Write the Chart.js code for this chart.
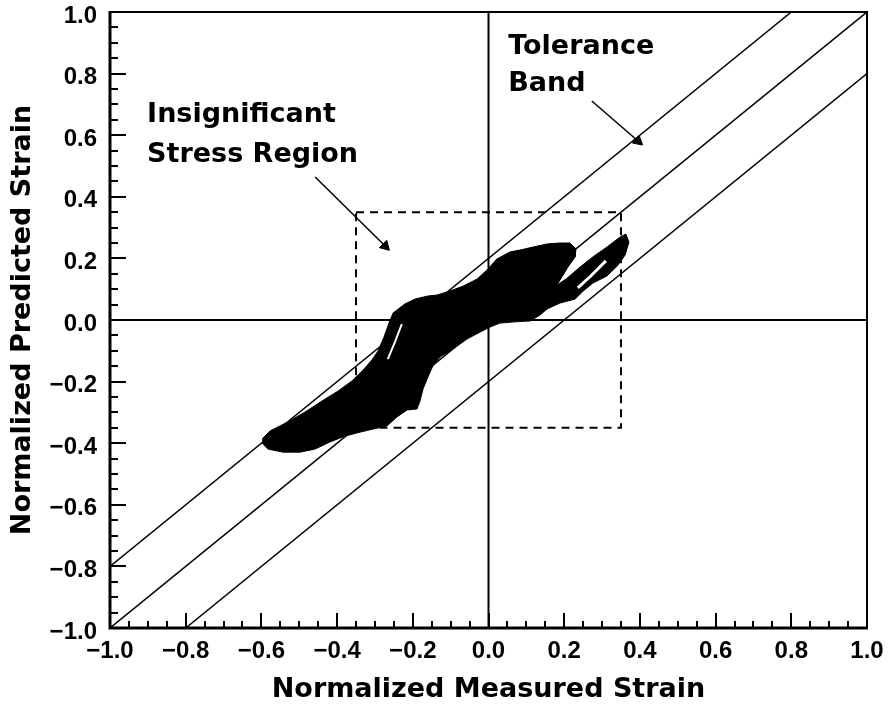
<!DOCTYPE html>
<html><head><meta charset="utf-8">
<script src="https://cdn.jsdelivr.net/npm/chart.js@4.4.1/dist/chart.umd.min.js"></script>
<style>html,body{margin:0;padding:0;background:#fff;}canvas{display:block;}</style>
</head><body>
<canvas id="c" width="889" height="715"></canvas>
<script>
// ---- data ----
const tickValues = [-1.0,-0.8,-0.6,-0.4,-0.2,0.0,0.2,0.4,0.6,0.8,1.0];
const tickLabels = ['\u22121.0','\u22120.8','\u22120.6','\u22120.4','\u22120.2','0.0','0.2','0.4','0.6','0.8','1.0'];
const xTitle = 'Normalized Measured Strain';
const yTitle = 'Normalized Predicted Strain';

// tolerance band (line endpoints)
const bandUpperX = [-1.0, 0.8],  bandUpperY = [-0.8, 1.0];
const bandCenterX = [-1.0, 1.0], bandCenterY = [-1.0, 1.0];
const bandLowerX = [-0.8, 1.0],  bandLowerY = [-1.0, 0.8];

// zero axes
const zeroHX = [-1.0, 1.0], zeroHY = [0.0, 0.0];
const zeroVX = [0.0, 0.0],  zeroVY = [-1.0, 1.0];

// insignificant stress region box
const boxX = [-0.35, 0.35, 0.35, -0.35, -0.35];
const boxY = [0.35, 0.35, -0.35, -0.35, 0.35];

// outline of the measured/predicted point cloud
const blobX = [-0.598,-0.577,-0.530,-0.485,-0.440,-0.398,-0.361,-0.334,-0.308,-0.292,-0.276,-0.263,-0.252,-0.221,-0.194,-0.160,-0.136,-0.102,-0.067,-0.030,-0.001,0.022,0.057,0.083,0.118,0.155,0.189,0.215,0.231,0.229,0.210,0.194,0.181,0.205,0.242,0.276,0.313,0.347,0.363,0.371,0.361,0.340,0.313,0.276,0.250,0.229,0.189,0.155,0.136,0.110,0.070,0.030,0.004,-0.022,-0.057,-0.094,-0.128,-0.147,-0.160,-0.173,-0.181,-0.189,-0.215,-0.242,-0.268,-0.305,-0.339,-0.379,-0.419,-0.458,-0.498,-0.543,-0.583,-0.598];
const blobY = [-0.386,-0.360,-0.331,-0.299,-0.263,-0.231,-0.198,-0.166,-0.130,-0.101,-0.055,-0.010,0.023,0.052,0.068,0.078,0.081,0.094,0.110,0.133,0.166,0.198,0.221,0.227,0.237,0.247,0.250,0.250,0.231,0.205,0.172,0.140,0.114,0.133,0.172,0.205,0.237,0.269,0.279,0.253,0.211,0.175,0.143,0.120,0.094,0.068,0.055,0.036,0.016,-0.003,-0.006,-0.010,-0.023,-0.039,-0.062,-0.094,-0.120,-0.149,-0.185,-0.224,-0.263,-0.289,-0.292,-0.315,-0.344,-0.354,-0.364,-0.377,-0.396,-0.419,-0.429,-0.429,-0.419,-0.399];

// white gaps inside the cloud
const gap1X = [-0.229,-0.247,-0.266], gap1Y = [-0.013,-0.071,-0.127];
const gap2X = [0.236,0.273,0.310],    gap2Y = [0.104,0.146,0.192];

// annotation arrows
const arrow1X = [-0.458,-0.273], arrow1Y = [0.464,0.240];
const arrow2X = [0.273,0.395],   arrow2Y = [0.711,0.581];

// annotation texts
const noteText = ['Insignificant','Stress Region','Tolerance','Band'];
const noteX = [-0.902,-0.902,0.052,0.052];
const noteY = [0.643,0.513,0.864,0.744];

// ---- chart ----
const pts = (xs, ys) => xs.map((x, i) => ({x: x, y: ys[i]}));
const isMajor = v => tickValues.some(t => Math.abs(t - v) < 1e-6);
const labelFor = v => { const i = tickValues.findIndex(t => Math.abs(t - v) < 1e-6); return i >= 0 ? tickLabels[i] : ''; };

const lineDs = (data, extra) => Object.assign({
  data: data, showLine: true, borderColor: '#000', borderWidth: 1.5,
  pointRadius: 0, pointHoverRadius: 0, fill: false, tension: 0, order: 5
}, extra || {});

const overlay = {
  id: 'overlay',
  afterDatasetsDraw(chart) {
    const ctx = chart.ctx, a = chart.chartArea, xs = chart.scales.x, ys = chart.scales.y;
    ctx.save();
    ctx.strokeStyle = '#000';
    ctx.lineWidth = 2;
    xs.ticks.forEach(t => {
      const p = Math.round(xs.getPixelForValue(t.value));
      const len = isMajor(t.value) ? 15 : 7;
      ctx.beginPath(); ctx.moveTo(p, a.bottom); ctx.lineTo(p, a.bottom - len); ctx.stroke();
    });
    ys.ticks.forEach(t => {
      const p = Math.round(ys.getPixelForValue(t.value));
      const len = isMajor(t.value) ? 16 : 8;
      ctx.beginPath(); ctx.moveTo(a.left, p); ctx.lineTo(a.left + len, p); ctx.stroke();
    });
    // frame
    ctx.lineWidth = 2;
    ctx.beginPath(); ctx.moveTo(a.left, a.top); ctx.lineTo(a.right, a.top); ctx.lineTo(a.right, a.bottom); ctx.stroke();
    ctx.lineWidth = 3;
    ctx.beginPath(); ctx.moveTo(a.left, a.top - 1); ctx.lineTo(a.left, a.bottom); ctx.lineTo(a.right + 1, a.bottom); ctx.stroke();
    // notes
    ctx.fillStyle = '#000';
    ctx.font = 'bold 27px "DejaVu Sans"';
    ctx.textAlign = 'left';
    ctx.textBaseline = 'alphabetic';
    noteText.forEach((s, i) => ctx.fillText(s, xs.getPixelForValue(noteX[i]), ys.getPixelForValue(noteY[i])));
    ctx.restore();
  }
};

new Chart(document.getElementById('c'), {
  type: 'scatter',
  data: {
    datasets: [
      lineDs(pts(gap1X, gap1Y), {borderColor: '#fff', borderWidth: 2, order: 0}),
      lineDs(pts(gap2X, gap2Y), {borderColor: '#fff', borderWidth: 3, order: 0}),
      lineDs(pts(blobX, blobY), {borderColor: '#000', borderWidth: 1, backgroundColor: '#000', fill: 'shape', order: 1}),
      lineDs(pts(bandUpperX, bandUpperY)),
      lineDs(pts(bandCenterX, bandCenterY)),
      lineDs(pts(bandLowerX, bandLowerY)),
      lineDs(pts(zeroHX, zeroHY), {borderWidth: 2}),
      lineDs(pts(zeroVX, zeroVY), {borderWidth: 2}),
      lineDs(pts(boxX, boxY), {borderWidth: 2, borderDash: [8, 6]}),
      lineDs(pts(arrow1X, arrow1Y)),
      lineDs(pts(arrow2X, arrow2Y)),
      {data: [pts(arrow1X, arrow1Y)[1]], pointStyle: 'triangle', rotation: 135, pointRadius: 6,
       backgroundColor: '#000', borderColor: '#000', borderWidth: 1, showLine: false, order: 2},
      {data: [pts(arrow2X, arrow2Y)[1]], pointStyle: 'triangle', rotation: 131, pointRadius: 6,
       backgroundColor: '#000', borderColor: '#000', borderWidth: 1, showLine: false, order: 2}
    ]
  },
  options: {
    responsive: false,
    animation: false,
    events: [],
    layout: {padding: {top: 12, right: 22, left: 0, bottom: 0}},
    plugins: {legend: {display: false}, tooltip: {enabled: false}},
    scales: {
      x: {
        type: 'linear', min: -1, max: 1,
        grid: {display: false, drawTicks: false},
        border: {display: false},
        ticks: {stepSize: 0.05, autoSkip: false, maxRotation: 0, padding: 9, color: '#000',
                font: {family: '"Liberation Sans"', size: 24, weight: 'bold'},
                callback: v => labelFor(v)},
        title: {display: true, text: xTitle, color: '#000',
                font: {family: '"DejaVu Sans"', size: 27, weight: 'bold'},
                padding: {top: 0, bottom: 9}},
        afterFit: s => { s.height = 87; s.paddingLeft = 0; s.paddingRight = 0; }
      },
      y: {
        type: 'linear', min: -1, max: 1,
        grid: {display: false, drawTicks: false},
        border: {display: false},
        ticks: {stepSize: 0.05, autoSkip: false, padding: 13, labelOffset: 4, color: '#000',
                font: {family: '"Liberation Sans"', size: 24, weight: 'bold'},
                callback: v => labelFor(v)},
        title: {display: true, text: yTitle, color: '#000',
                font: {family: '"DejaVu Sans"', size: 27, weight: 'bold'},
                padding: {top: 7, bottom: 0}},
        afterFit: s => { s.width = 110; s.paddingTop = 0; s.paddingBottom = 0; }
      }
    }
  },
  plugins: [overlay]
});
</script>
</body></html>
